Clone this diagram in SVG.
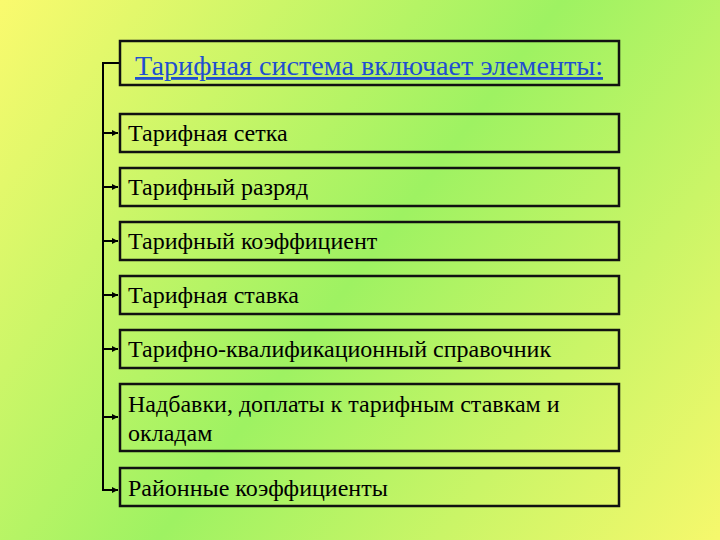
<svg xmlns="http://www.w3.org/2000/svg" width="720" height="540" viewBox="0 0 720 540">
<defs>
<linearGradient id="bg" x1="0" y1="0" x2="720" y2="540" gradientUnits="userSpaceOnUse">
<stop offset="0" stop-color="#fafa6e"/>
<stop offset="0.5" stop-color="#9ef262"/>
<stop offset="1" stop-color="#f6f86c"/>
</linearGradient>
<marker id="arr" viewBox="0 0 6 6" refX="6" refY="3" markerWidth="6" markerHeight="6" markerUnits="userSpaceOnUse" orient="auto">
<path d="M0,0 L6,3 L0,6 z" fill="#000"/>
</marker>
<style>
.box{fill:none;stroke:#111;stroke-width:2.5}
.t{font-family:"Liberation Serif","Times New Roman",serif;font-size:24px;fill:#000}
.title{font-family:"Liberation Serif","Times New Roman",serif;font-size:28px;fill:#1f4fd0;text-decoration:underline}
.c{fill:none;stroke:#000;stroke-width:2}
</style>
</defs>
<rect width="720" height="540" fill="url(#bg)"/>
<g id="connectors">
<path class="c" d="M120,63 H103 V490 H118" marker-end="url(#arr)"/>
<path class="c" d="M103,133 H118" marker-end="url(#arr)"/>
<path class="c" d="M103,187 H118" marker-end="url(#arr)"/>
<path class="c" d="M103,241 H118" marker-end="url(#arr)"/>
<path class="c" d="M103,295 H118" marker-end="url(#arr)"/>
<path class="c" d="M103,349 H118" marker-end="url(#arr)"/>
<path class="c" d="M103,417 H118" marker-end="url(#arr)"/>
</g>
<g id="title"><rect class="box" x="120" y="41" width="499" height="44"/><text class="title" x="135" y="75" textLength="468" lengthAdjust="spacingAndGlyphs">Тарифная система включает элементы:</text></g>
<g id="n1"><rect class="box" x="120" y="114" width="499" height="38"/><text class="t" x="128" y="141">Тарифная сетка</text></g>
<g id="n2"><rect class="box" x="120" y="168" width="499" height="38"/><text class="t" x="128" y="195">Тарифный разряд</text></g>
<g id="n3"><rect class="box" x="120" y="222" width="499" height="38"/><text class="t" x="128" y="249">Тарифный коэффициент</text></g>
<g id="n4"><rect class="box" x="120" y="276" width="499" height="38"/><text class="t" x="128" y="303">Тарифная ставка</text></g>
<g id="n5"><rect class="box" x="120" y="330" width="499" height="38"/><text class="t" x="128" y="357">Тарифно-квалификационный справочник</text></g>
<g id="n6"><rect class="box" x="120" y="384" width="499" height="67"/><text class="t" x="128" y="412">Надбавки, доплаты к тарифным ставкам и</text><text class="t" x="128" y="441">окладам</text></g>
<g id="n7"><rect class="box" x="120" y="468" width="499" height="38"/><text class="t" x="128" y="496">Районные коэффициенты</text></g>
</svg>
